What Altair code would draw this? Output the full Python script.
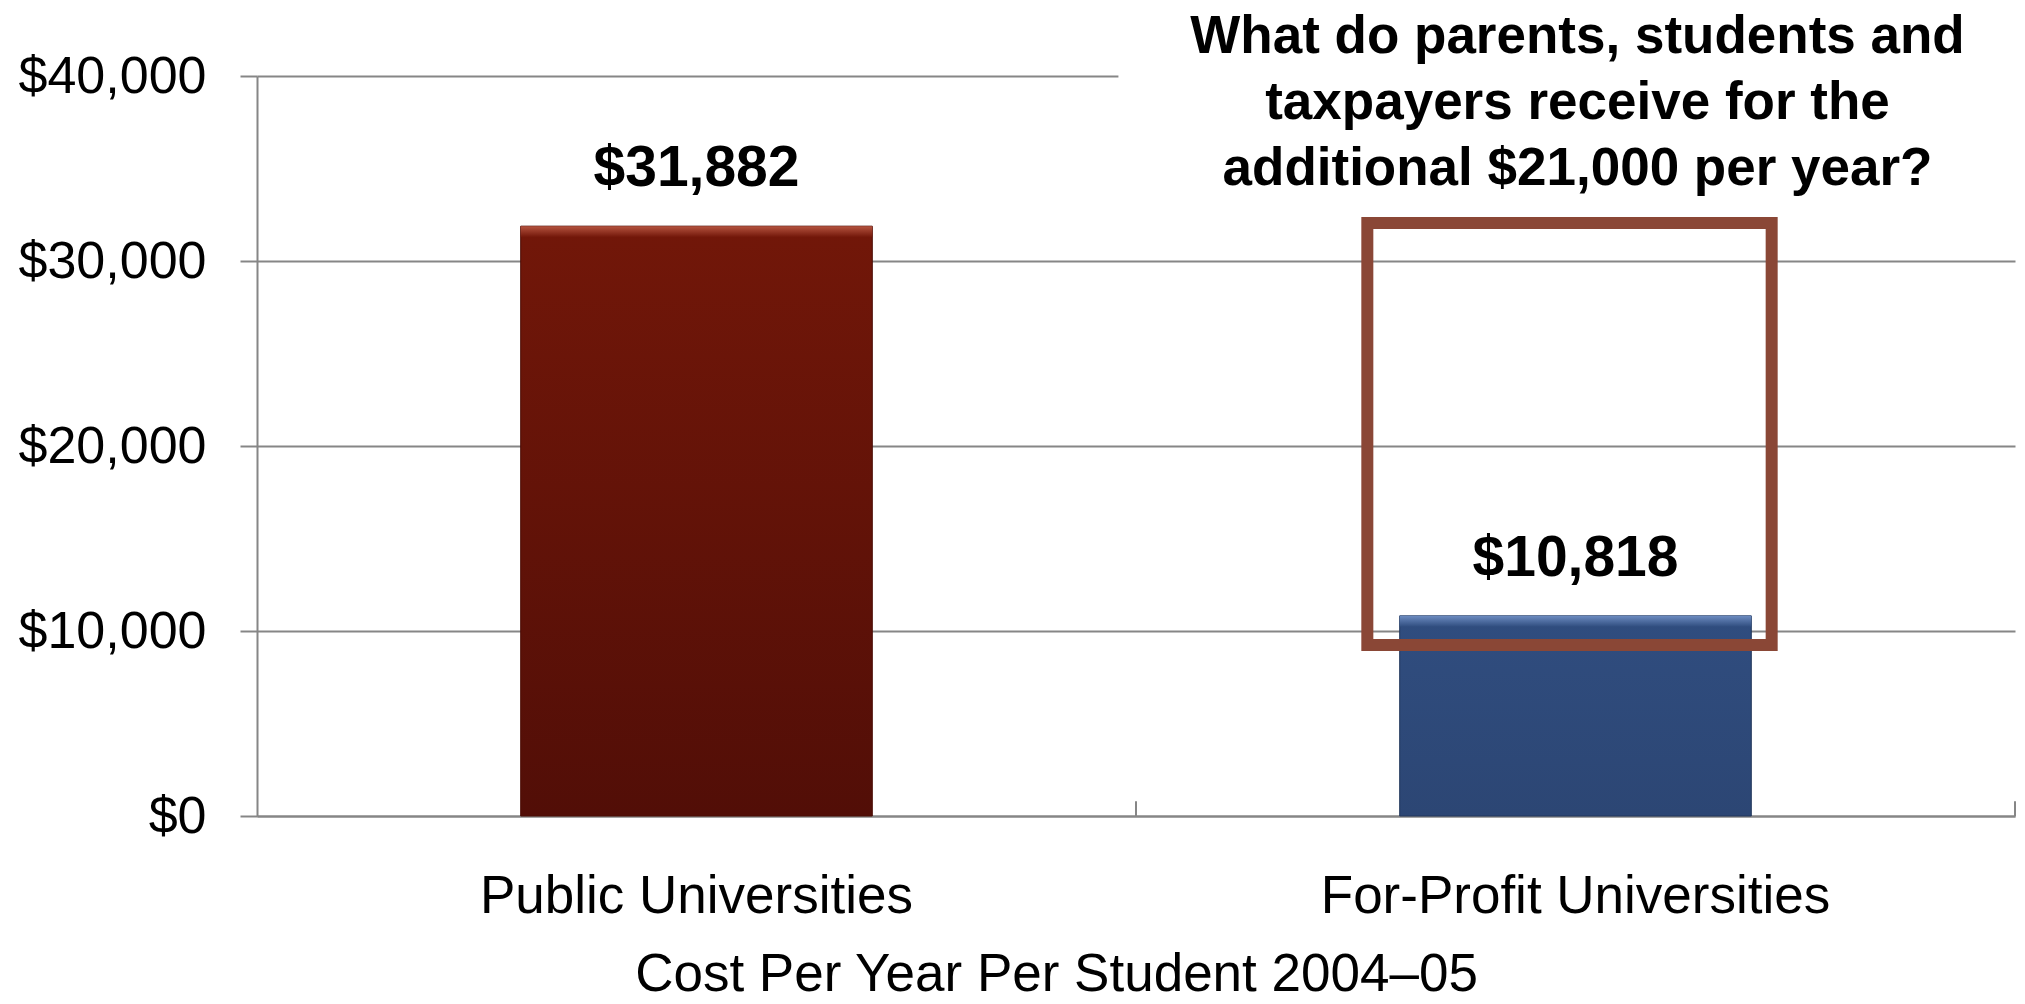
import altair as alt
import pandas as pd

categories = ["Public Universities", "For-Profit Universities"]
costs = [31882, 10818]
y_ticks = [0, 10000, 20000, 30000, 40000]
question_lines = [
    "What do parents, students and",
    "taxpayers receive for the",
    "additional $21,000 per year?",
]
box_top = 32050
box_bottom = 9250
question_y = 42100
axis_title = "Cost Per Year Per Student 2004\u201305"

df = pd.DataFrame({"cat": categories, "cost": costs})
box_df = pd.DataFrame({"cat": [categories[1]], "cost": [box_top], "bottom": [box_bottom]})
mask_df = pd.DataFrame({"cat": [categories[1]], "cost": [41500], "bottom": [38500]})
tick_df = pd.DataFrame({"cat": [categories[1]], "cost": [0], "top": [800]})

FONT = "Liberation Sans"
GRAY = "#868686"

xscale = alt.Scale(domain=categories, paddingInner=0, paddingOuter=0)
yscale = alt.Scale(domain=[0, 40000], nice=False)

x_axis = alt.Axis(
    title=axis_title, labelFontSize=53, labelFont=FONT, labelColor="black",
    labelAngle=0, labelPadding=96, labelBaseline="alphabetic", labelLimit=0,
    ticks=False, tickSize=0, domainColor=GRAY, domainWidth=2, grid=False,
    titleFont=FONT, titleFontSize=53, titleFontWeight="normal", titleColor="black",
    titleX=799, titleY=174, titleBaseline="alphabetic", titleAlign="center",
    titleLimit=0,
)
y_axis = alt.Axis(
    title=None, values=y_ticks, format="$,.0f", labelFontSize=52, labelFont=FONT,
    labelColor="black", labelPadding=34, labelLimit=0, tickSize=17, tickColor=GRAY,
    tickWidth=2, domainColor=GRAY, domainWidth=2, gridColor=GRAY, gridWidth=2,
)


def X(**kw):
    return alt.X("cat:N", scale=xscale, sort=categories, axis=x_axis, title=axis_title, **kw)


def Y():
    return alt.Y("cost:Q", scale=yscale, axis=y_axis, title=None)


def vgrad(c0, c1):
    return alt.Gradient(
        gradient="linear", x1=0, x2=0, y1=0, y2=1,
        stops=[alt.GradientStop(color=c0, offset=0), alt.GradientStop(color=c1, offset=1)],
    )


base = alt.Chart(df)

red_bar = base.transform_filter(alt.datum.cat == categories[0]).mark_bar(
    width={"band": 0.4}, color=vgrad("#721709", "#520E07"), stroke="#4A0C05", strokeWidth=1
).encode(x=X(), y=Y())
blue_bar = base.transform_filter(alt.datum.cat == categories[1]).mark_bar(
    width={"band": 0.4}, color=vgrad("#304D7F", "#2C4674"), stroke="#22375C", strokeWidth=1
).encode(x=X(), y=Y())

red_bevel = base.transform_filter(alt.datum.cat == categories[0]).mark_bar(
    width={"band": 0.4}, color=vgrad("#B5533F", "#721709"), y2Offset=11
).encode(x=X(), y=Y(), y2="cost:Q")
blue_bevel = base.transform_filter(alt.datum.cat == categories[1]).mark_bar(
    width={"band": 0.4}, color=vgrad("#6C8BC0", "#304D7F"), y2Offset=11
).encode(x=X(), y=Y(), y2="cost:Q")

values = base.mark_text(
    font=FONT, fontSize=57, fontWeight="bold", baseline="alphabetic", dy=-40, color="black"
).encode(x=X(), y=Y(), text=alt.Text("cost:Q", format="$,.0f"))

tick_mid = alt.Chart(tick_df).mark_rule(color=GRAY, strokeWidth=2).encode(
    x=X(bandPosition=0), y=Y(), y2="top:Q",
)
tick_end = alt.Chart(tick_df).mark_rule(color=GRAY, strokeWidth=2).encode(
    x=X(bandPosition=1), y=Y(), y2="top:Q",
)

mask = alt.Chart(mask_df).mark_rect(width={"band": 1.04}, color="white").encode(
    x=X(), y=Y(), y2="bottom:Q",
)

box = alt.Chart(box_df).mark_rect(
    width={"band": 0.46}, xOffset=-6, fillOpacity=0, stroke="#8A4736", strokeWidth=12
).encode(x=X(), y=Y(), y2="bottom:Q")

question_df = pd.DataFrame({"cat": [categories[1]], "cost": [question_y]})
question = alt.Chart(question_df).mark_text(
    text=question_lines, font=FONT, fontSize=53, fontWeight="bold",
    baseline="middle", align="center", lineHeight=66, color="black", xOffset=2,
).encode(x=X(), y=Y())

chart = alt.layer(
    red_bar, blue_bar, red_bevel, blue_bevel, tick_mid, tick_end, mask, box,
    values, question
).properties(
    width=1758, height=740,
    autosize=alt.AutoSizeParams(type="none"),
    padding={"left": 249, "top": 68, "right": 2, "bottom": 178},
    background="white",
).configure_view(stroke=None)

chart.save("out.html", embed_options={"renderer": "svg", "actions": False})
